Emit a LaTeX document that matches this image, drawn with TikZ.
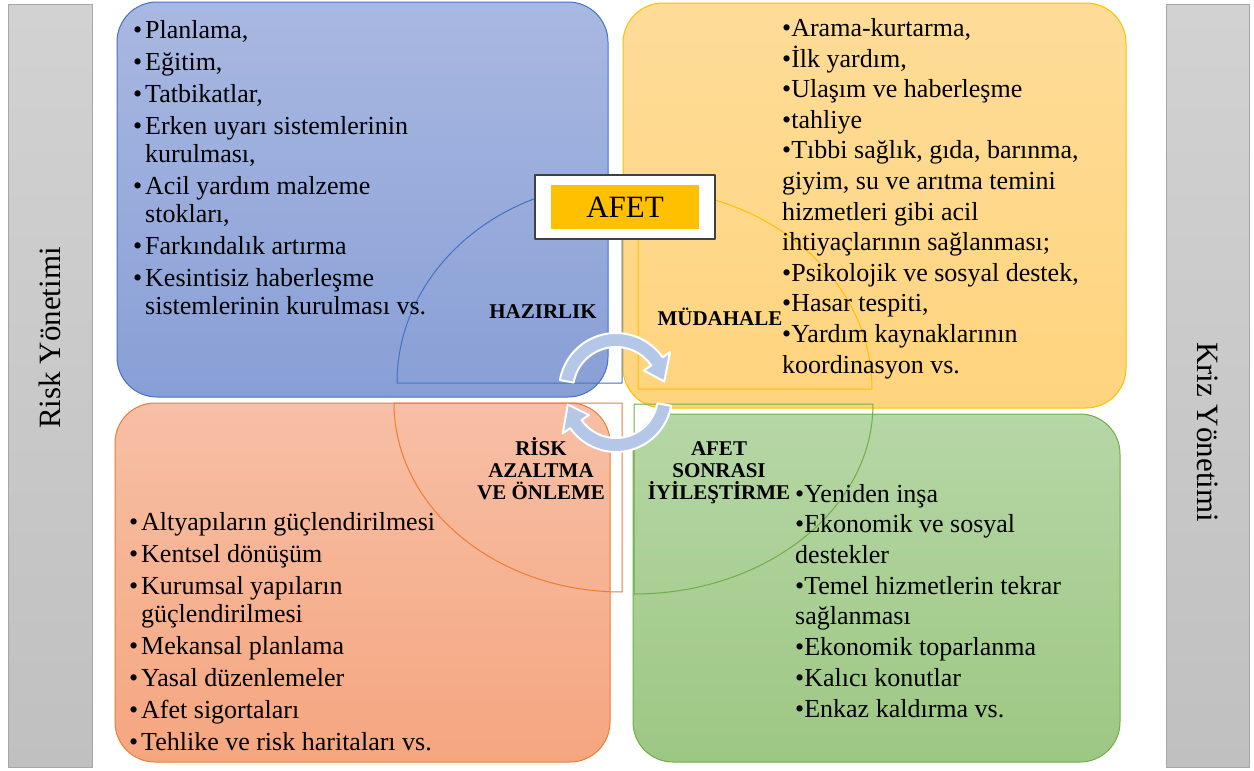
\documentclass[tikz,border=0pt]{standalone}
\usepackage{fontspec}
\setmainfont{Liberation Serif}
\usetikzlibrary{positioning}

\definecolor{blueTop}{HTML}{A9B8E1}
\definecolor{blueBot}{HTML}{889FD6}
\definecolor{blueLine}{HTML}{4472C4}
\definecolor{yellowTop}{HTML}{FEDC98}
\definecolor{yellowBot}{HTML}{FFD47E}
\definecolor{yellowLine}{HTML}{FFC000}
\definecolor{salmonTop}{HTML}{F7BFA6}
\definecolor{salmonBot}{HTML}{F5A67F}
\definecolor{salmonLine}{HTML}{ED7D31}
\definecolor{greenTop}{HTML}{B6D7A6}
\definecolor{greenBot}{HTML}{9DC783}
\definecolor{greenLine}{HTML}{70AD47}
\definecolor{grayTop}{HTML}{D2D2D2}
\definecolor{grayBot}{HTML}{C0C0C0}
\definecolor{grayLine}{HTML}{A6A6A6}
\definecolor{arrowBlue}{HTML}{B4C7E7}
\definecolor{afetOrange}{HTML}{FFC000}

\newcommand{\bul}{\makebox[12pt][l]{\textbullet}}
\newcommand{\cnt}{\hspace*{12pt}}

\begin{document}
\begin{tikzpicture}[x=1pt,y=-1pt, line cap=round, line join=round,
  panel/.style={rounded corners=40pt, line width=1pt},
  sector/.style={line width=1pt},
  itemtext/.style={anchor=base west, inner sep=0pt, align=left},
  phase/.style={anchor=base, inner sep=0pt, align=center, font=\fontsize{21}{22}\selectfont\bfseries},
  cyclearrow/.style={fill=arrowBlue, draw=white, line width=2pt}]
\useasboundingbox (0,0) rectangle (1254,771);

% Side bars
\shadedraw[top color=grayTop, bottom color=grayBot, draw=grayLine] (8,4) rectangle (92,767);
\shadedraw[top color=grayTop, bottom color=grayBot, draw=grayLine] (1166,4) rectangle (1249,767);
\node[rotate=90, font=\fontsize{31}{31}\selectfont] (risk) at (50,338) {Risk Yönetimi};
\node[rotate=-90, font=\fontsize{31}{31}\selectfont] (kriz) at (1208,432) {Kriz Yönetimi};

% Four phase panels
\shadedraw[panel, top color=blueTop, bottom color=blueBot, draw=blueLine] (117,2) rectangle (608,397);
\shadedraw[panel, top color=yellowTop, bottom color=yellowBot, draw=yellowLine] (623,3) rectangle (1126,408);
\shadedraw[panel, top color=salmonTop, bottom color=salmonBot, draw=salmonLine] (115,403) rectangle (610,762);
\shadedraw[panel, top color=greenTop, bottom color=greenBot, draw=greenLine] (633,414) rectangle (1120,762);

% Quarter sectors round the centre
\draw[sector, draw=blueLine] (622,383) -- (397,383) arc[start angle=180, end angle=270, x radius=225, y radius=200] -- cycle;
\draw[sector, draw=yellowLine] (638,389) -- (638,189) arc[start angle=270, end angle=360, x radius=234, y radius=200] -- cycle;
\draw[sector, draw=salmonLine] (622,403) -- (394,403) arc[start angle=180, end angle=90, x radius=228, y radius=189] -- cycle;
\draw[sector, draw=greenLine] (634,404) -- (873,404) arc[start angle=0, end angle=90, x radius=239, y radius=190] -- cycle;

% Panel texts (placed at the baseline of their last line)
\node[itemtext, font=\fontsize{26}{28}\selectfont] (hazitems) at (133,314) {%
\bul Planlama,\\[4pt]
\bul Eğitim,\\[4pt]
\bul Tatbikatlar,\\[4pt]
\bul Erken uyarı sistemlerinin\\
\cnt kurulması,\\[4pt]
\bul Acil yardım malzeme\\
\cnt stokları,\\[4pt]
\bul Farkındalık artırma\\[4pt]
\bul Kesintisiz haberleşme\\
\cnt sistemlerinin kurulması vs.};

\node[itemtext, font=\fontsize{26}{30.6}\selectfont] (mudaitems) at (782,373) {%
\textbullet Arama-kurtarma,\\
\textbullet İlk yardım,\\
\textbullet Ulaşım ve haberleşme\\
\textbullet tahliye\\
\textbullet Tıbbi sağlık, gıda, barınma,\\
giyim, su ve arıtma temini\\
hizmetleri gibi acil\\
ihtiyaçlarının sağlanması;\\
\textbullet Psikolojik ve sosyal destek,\\
\textbullet Hasar tespiti,\\
\textbullet Yardım kaynaklarının\\
koordinasyon vs.};

\node[itemtext, font=\fontsize{26}{28}\selectfont] (riskitems) at (129,750) {%
\bul Altyapıların güçlendirilmesi\\[4pt]
\bul Kentsel dönüşüm\\[4pt]
\bul Kurumsal yapıların\\
\cnt güçlendirilmesi\\[4pt]
\bul Mekansal planlama\\[4pt]
\bul Yasal düzenlemeler\\[4pt]
\bul Afet sigortaları\\[4pt]
\bul Tehlike ve risk haritaları vs.};

\node[itemtext, font=\fontsize{26}{30.7}\selectfont] (iyitems) at (795,717) {%
\textbullet Yeniden inşa\\
\textbullet Ekonomik ve sosyal\\
destekler\\
\textbullet Temel hizmetlerin tekrar\\
sağlanması\\
\textbullet Ekonomik toparlanma\\
\textbullet Kalıcı konutlar\\
\textbullet Enkaz kaldırma vs.};

% Phase labels
\node[phase] (hazirlik) at (543,318) {HAZIRLIK};
\node[phase] (mudahale) at (720,325) {MÜDAHALE};
\node[phase] (riskazaltma) at (541,499) {RİSK\\AZALTMA\\VE ÖNLEME};
\node[phase] (iyilestirme) at (719,499) {AFET\\SONRASI\\İYİLEŞTİRME};

% Cycle arrows
\begin{scope}[shift={(616,390)}]
  \filldraw[cyclearrow] (190:57) arc[start angle=190, end angle=325, radius=57]
    -- (325:66) -- (350:49) -- (325:34) -- (325:43)
    arc[start angle=325, end angle=190, radius=43] -- cycle;
\end{scope}
\begin{scope}[shift={(616,396)}]
  \filldraw[cyclearrow] (10:56) arc[start angle=10, end angle=145, radius=56]
    -- (145:65) -- (170:49) -- (145:33) -- (145:42)
    arc[start angle=145, end angle=10, radius=42] -- cycle;
\end{scope}

% Centre title
\node[draw=black!75, line width=1.5pt, fill=white, minimum width=180pt, minimum height=64pt] (afetframe) at (625,207) {};
\node[fill=afetOrange, minimum width=148pt, minimum height=44pt, inner sep=0pt, font=\fontsize{31}{31}\selectfont] (afet) at (625,207) {AFET};
\end{tikzpicture}
\end{document}
